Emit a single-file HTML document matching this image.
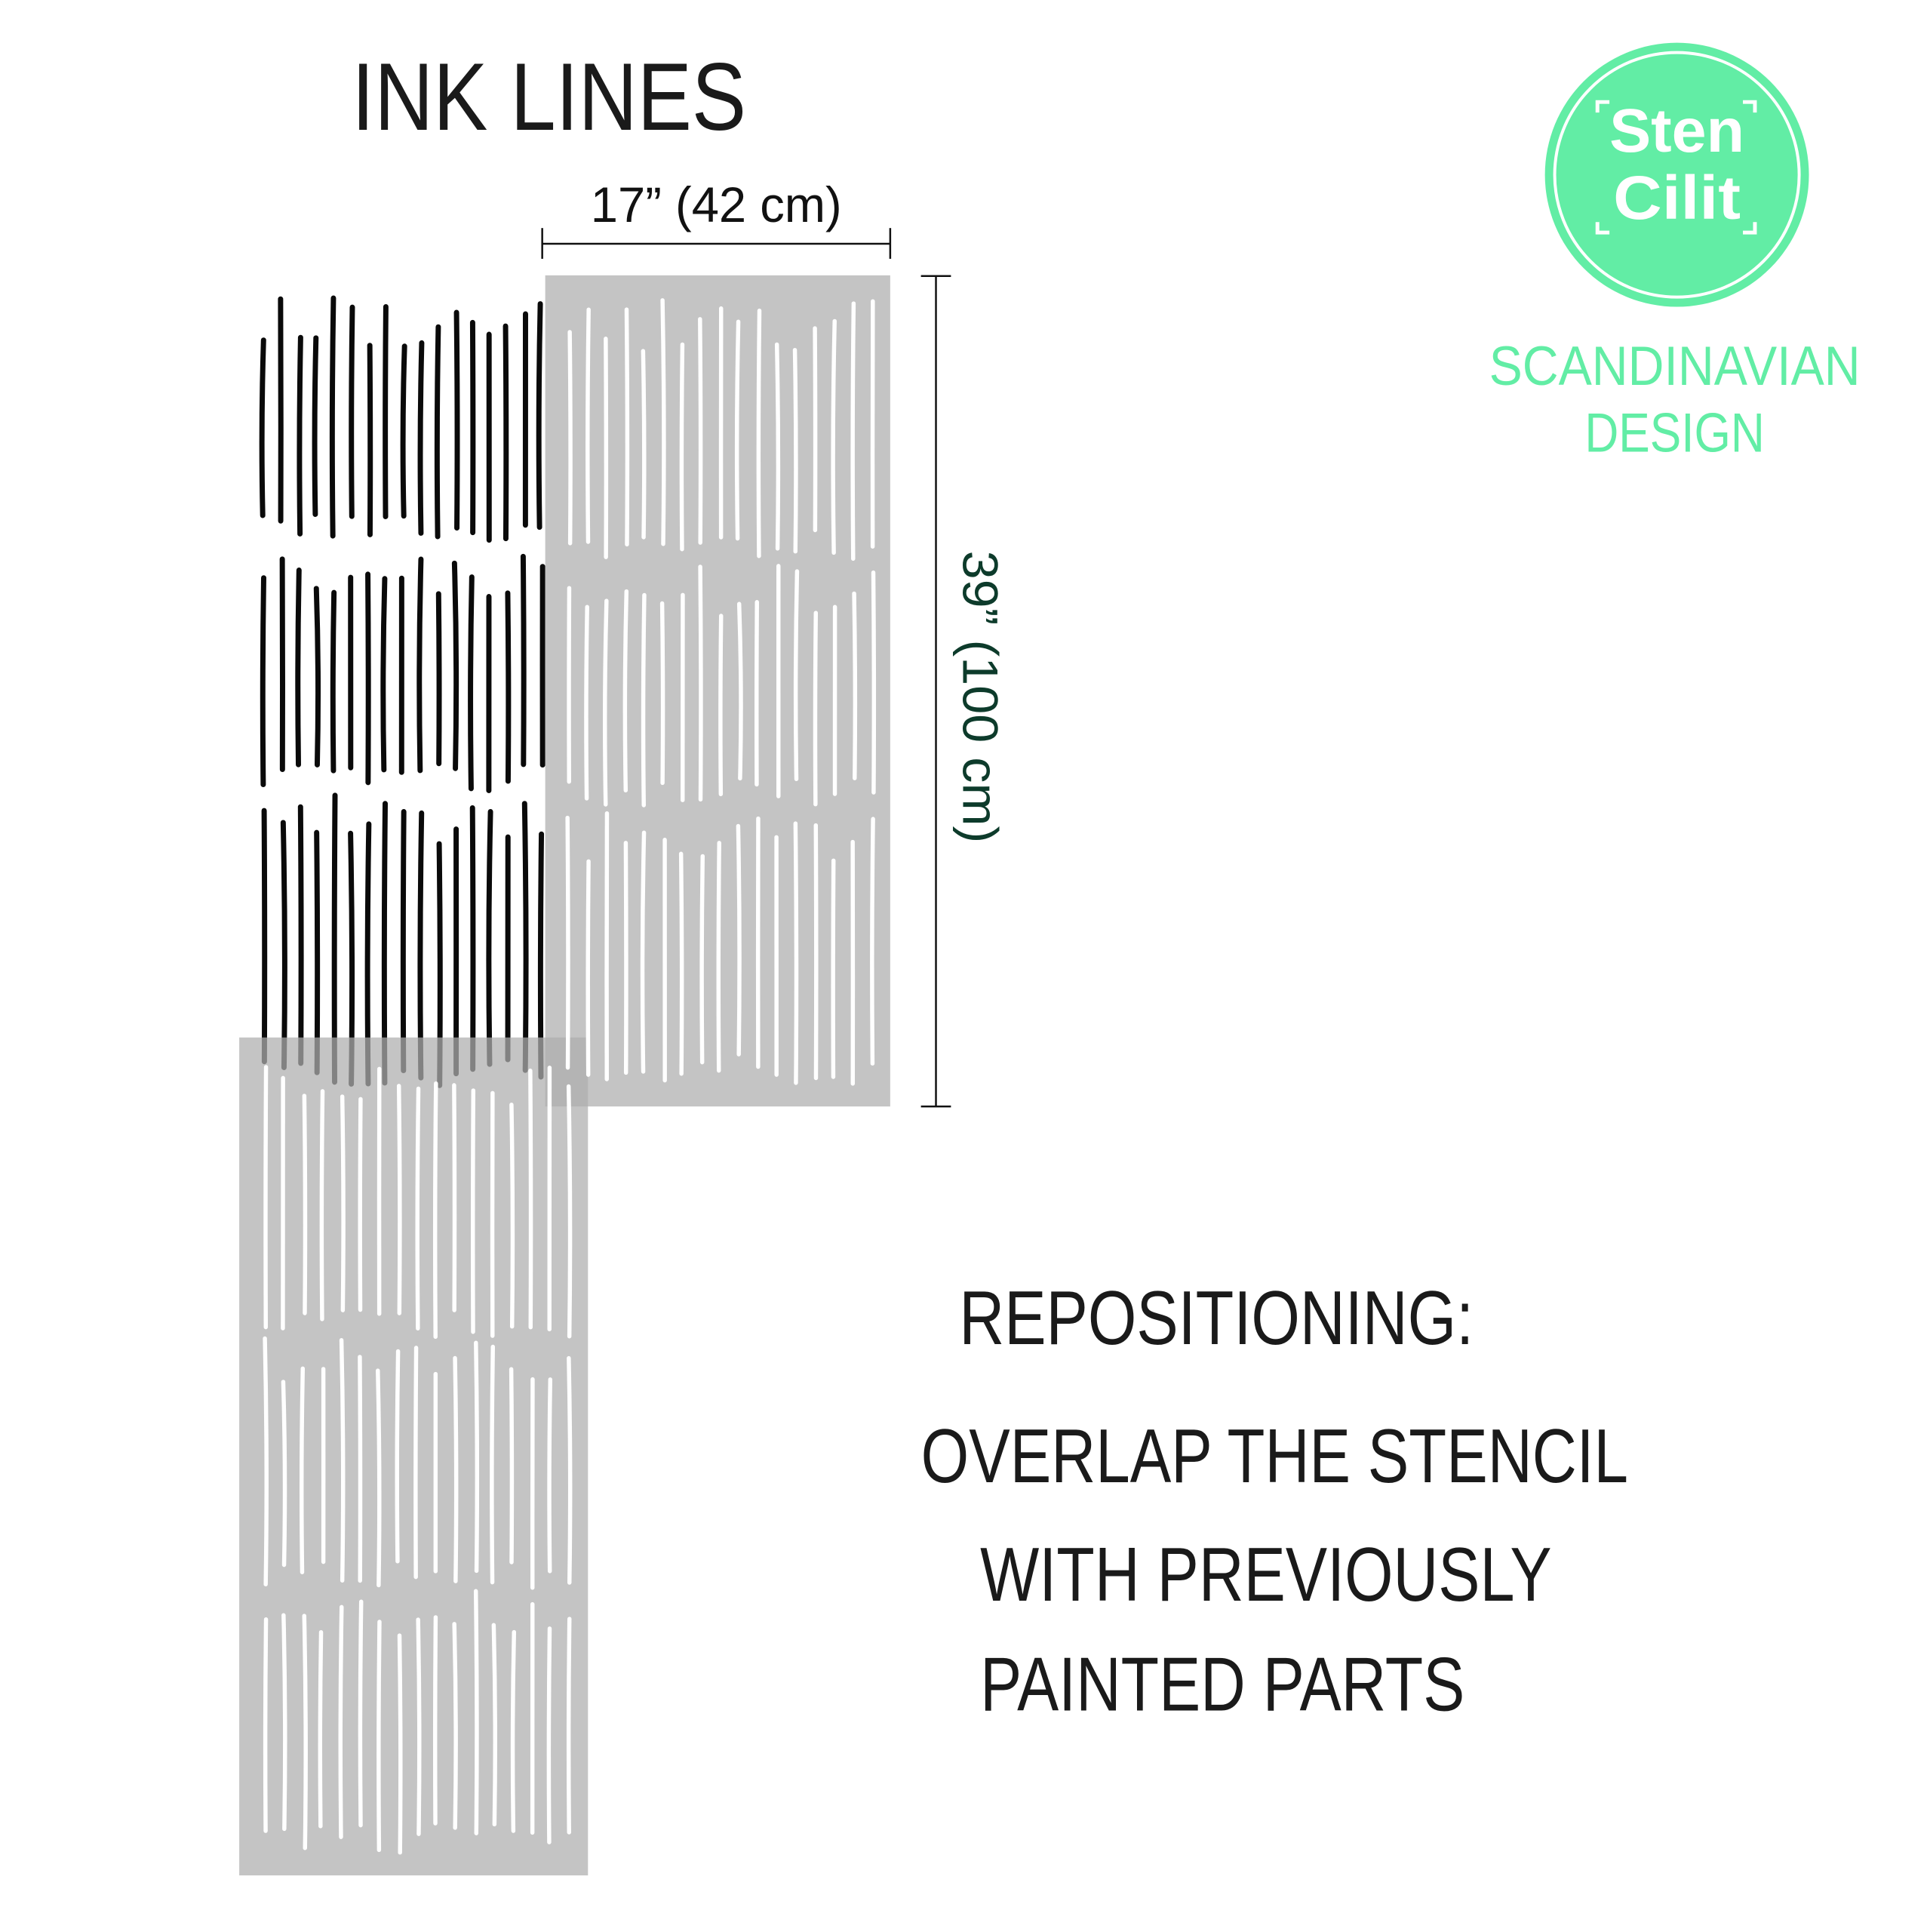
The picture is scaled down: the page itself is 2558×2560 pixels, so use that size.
<!DOCTYPE html>
<html><head><meta charset="utf-8"><style>
html,body{margin:0;padding:0;background:#fff}
svg{display:block}
text{font-family:"Liberation Sans",sans-serif}
</style></head><body>
<svg id="s" width="2558" height="2560" viewBox="0 0 2558 2560" xmlns="http://www.w3.org/2000/svg">
<rect width="2558" height="2560" fill="#fff"/>
<g transform="scale(0.994)">
<g id="black" stroke="#0a0a0a" stroke-width="7" stroke-linecap="round" fill="none"></g>
<rect x="727" y="367" width="460" height="1108" fill="#afafaf" fill-opacity="0.733"/>
<rect x="319" y="1383" width="465" height="1117" fill="#afafaf" fill-opacity="0.733"/>
<g id="white" stroke="#fff" stroke-width="5.5" stroke-linecap="round" fill="none"></g>
<text x="469" y="173" font-size="128" fill="#1a1a1a" textLength="526" lengthAdjust="spacingAndGlyphs">INK LINES</text>
<text x="955" y="296" font-size="66" fill="#111" text-anchor="middle" textLength="335" lengthAdjust="spacingAndGlyphs">17” (42 cm)</text>
<g stroke="#111" stroke-width="2.5">
<line x1="723" y1="325" x2="1187" y2="325"/><line x1="723" y1="304" x2="723" y2="345"/><line x1="1187" y1="304" x2="1187" y2="345"/>
<line x1="1248" y1="368" x2="1248" y2="1475"/><line x1="1228" y1="368" x2="1268" y2="368"/><line x1="1228" y1="1475" x2="1268" y2="1475"/>
</g>
<text transform="translate(1284,929) rotate(90)" font-size="66" fill="#0d3b2b" text-anchor="middle" textLength="390" lengthAdjust="spacingAndGlyphs">39” (100 cm)</text>
<circle cx="2236" cy="233" r="176" fill="#62eda5"/>
<circle cx="2236" cy="233" r="163" fill="none" stroke="#fff" stroke-width="4"/>
<g stroke="#fff" stroke-width="5" fill="none">
<path d="M2130 150 v-14 h16"/><path d="M2324 136 h16 v14"/><path d="M2130 296 v14 h16"/><path d="M2324 310 h16 v-14"/>
</g>
<text x="2236" y="202" font-size="82" font-weight="bold" fill="#fff" text-anchor="middle" textLength="180" lengthAdjust="spacingAndGlyphs">Sten</text>
<text x="2236" y="292" font-size="82" font-weight="bold" fill="#fff" text-anchor="middle" textLength="170" lengthAdjust="spacingAndGlyphs">Cilit</text>
<text x="2233" y="513" font-size="74" fill="#62eda5" text-anchor="middle" textLength="495" lengthAdjust="spacingAndGlyphs">SCANDINAVIAN</text>
<text x="2233" y="602" font-size="74" fill="#62eda5" text-anchor="middle" textLength="240" lengthAdjust="spacingAndGlyphs">DESIGN</text>
<g font-size="102" fill="#1a1a1a">
<text x="1279" y="1792" textLength="686" lengthAdjust="spacingAndGlyphs">REPOSITIONING:</text>
<text x="1228" y="1976" textLength="943" lengthAdjust="spacingAndGlyphs">OVERLAP THE STENCIL</text>
<text x="1307" y="2134" textLength="762" lengthAdjust="spacingAndGlyphs">WITH PREVIOUSLY</text>
<text x="1307" y="2280" textLength="646" lengthAdjust="spacingAndGlyphs">PAINTED PARTS</text>
</g>
</g>
</svg>
<script>
(function(){
var seed=12345;function r(){seed=(seed*16807)%2147483647;return (seed-1)/2147483646;}
var NS="http://www.w3.org/2000/svg";
function block(g,x0,x1,rows,n){
 var step=(x1-x0)/(n-1);
 rows.forEach(function(rw){
  for(var i=0;i<n;i++){
   var x=x0+i*step+(r()-0.5)*4;
   var t=rw[0]+r()*70, b=rw[1]-r()*40;
   var d=(r()-0.5)*8;
   var p=document.createElementNS(NS,"path");
   p.setAttribute("d","M"+x.toFixed(1)+" "+t.toFixed(1)+" Q"+(x+d).toFixed(1)+" "+((t+b)/2).toFixed(1)+" "+(x+d*0.3).toFixed(1)+" "+b.toFixed(1));
   g.appendChild(p);
  }
 });
}
block(document.getElementById("black"),353,722,[[395,725],[740,1055],[1060,1448]],17);
var w=document.getElementById("white");
block(w,758,1163,[[400,745],[752,1075],[1080,1445]],17);
block(w,353,760,[[1420,1785],[1775,2120],[2115,2470]],17);
})();
</script>
</body></html>
